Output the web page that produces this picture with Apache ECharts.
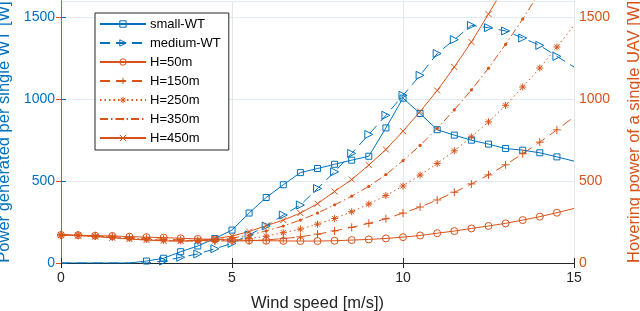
<!DOCTYPE html>
<html>
<head>
<meta charset="utf-8">
<script src="https://cdn.jsdelivr.net/npm/echarts@6/dist/echarts.min.js"></script>
<style>
html,body{margin:0;padding:0;background:#fff;}
#chart{width:640px;height:311px;}
</style>
</head>
<body>
<div id="chart"></div>
<script>
// ---- data ----
const windSpeed = [0,0.5,1,1.5,2,2.5,3,3.5,4,4.5,5,5.5,6,6.5,7,7.5,8,8.5,9,9.5,10,10.5,11,11.5,12,12.5,13,13.5,14,14.5,15];
const smallWT  = [0,0,0,0,0, 12,29,69,104,150, 201,305,400,478,552, 577,603,628,652,825, 1007,913,814,781,750, 726,699,689,673,648, 622];
const mediumWT = [0,0,0,0,0, 0,12,35,55,87, 120,172,226,293,354, 455,557,669,785,902, 1024,1146,1279,1364,1451, 1437,1417,1374,1329,1262, 1197];
const h50  = [171,170,167,165,161, 158,155,151,147,144, 141,138,136,135,134, 134,136,140,144,150, 158,168,182,195,211, 226,242,262,283,307, 333];
const h150 = [171,169,165,160,155, 150,145,141,137,135, 134,136,141,149,160, 176,196,218,242,270, 305,342,385,432,483, 538,600,667,738,813, 892];
const h250 = [171,169,164,158,151, 145,140,136,134,135, 140,149,164,185,207, 237,272,313,360,412, 470,537,608,685,770, 862,963,1075,1191,1319, 1451];
const h350 = [171,169,163,156,148, 142,137,134,135,141, 152,170,196,226,262, 305,355,408,468,540, 625,718,822,935,1057, 1190,1335,1490,1655,1830, 2010];
const h450 = [171,168,161,154,146, 140,135,134,138,148, 165,192,228,262,305, 362,437,510,598,693, 805,925,1053,1197,1350, 1520,1700,1890,2090,2300, 2520];
const xTicks = [0,5,10,15];
const yTicks = [0,500,1000,1500];
const seriesNames = ['small-WT','medium-WT','H=50m','H=150m','H=250m','H=350m','H=450m'];

const BLUE = '#0072BD', ORANGE = '#D95319', DARK = '#262626';
const FONT = 'Liberation Sans';
const CLEAR = 'rgba(255,255,255,0)';

function build(vals, hideZero) {
  return windSpeed.map((x, i) => {
    const item = { value: [x, vals[i]] };
    if ((hideZero && vals[i] === 0) || i === windSpeed.length - 1) item.symbol = 'none';
    return item;
  });
}

const SYM = {
  square: 'rect',
  triRight: 'path://M0,0L10,5L0,10Z',
  plus: 'path://M5,0L5,10M0,5L10,5',
  star: 'path://M5,0L5,10M0,5L10,5M1.5,1.5L8.5,8.5M8.5,1.5L1.5,8.5',
  cross: 'path://M0,0L10,10M10,0L0,10',
  dot: 'path://M0,0M10,10M5,3A2,2,0,1,1,5,7A2,2,0,1,1,5,3Z'
};

const hollow = c => ({ color: CLEAR, borderColor: c, borderWidth: 1 });

function mk(name, vals, color, yIdx, symbol, size, lineType, hideZero, filled) {
  return {
    name: name, type: 'line', yAxisIndex: yIdx,
    data: build(vals, hideZero),
    symbol: symbol, symbolSize: size, showAllSymbol: true,
    lineStyle: { color: color, width: 1, type: lineType },
    itemStyle: filled ? { color: color, borderWidth: 0 } : hollow(color),
    emphasis: { disabled: true },
    clip: true
  };
}

const legendColors = [BLUE, BLUE, ORANGE, ORANGE, ORANGE, ORANGE, ORANGE];
const legendData = seriesNames.map((n, i) => ({
  name: n,
  itemStyle: n === 'H=350m' ? { color: ORANGE, borderWidth: 0 } : hollow(legendColors[i])
}));

const chart = echarts.init(document.getElementById('chart'), null, { renderer: 'canvas' });
chart.setOption({
  animation: false,
  backgroundColor: '#fff',
  grid: { left: 61, right: 66, top: 1, bottom: 48, containLabel: false, outerBoundsMode: 'none' },
  legend: {
    orient: 'vertical', left: 95, top: 13,
    data: legendData,
    itemWidth: 46, itemHeight: 8, itemGap: 5,
    padding: [4, 8, 5, 4],
    backgroundColor: '#fff', borderColor: DARK, borderWidth: 1,
    textStyle: { fontFamily: FONT, fontSize: 13, color: '#000', lineHeight: 14, padding: [0,0,0,-1] }
  },
  xAxis: [{
    type: 'value', min: 0, max: 15, interval: 5,
    name: 'Wind speed [m/s])', nameLocation: 'middle', nameGap: 32,
    nameTextStyle: { fontFamily: FONT, fontSize: 16.5, color: DARK },
    axisLine: { show: true, lineStyle: { color: DARK, width: 1 } },
    axisTick: { show: true, inside: true, length: 5, lineStyle: { color: DARK } },
    axisLabel: { fontFamily: FONT, fontSize: 14, color: DARK, margin: 8,
      formatter: v => xTicks.includes(v) ? String(v) : '' },
    splitLine: { show: true, lineStyle: { color: '#e6e6e6', width: 1 } }
  }, {
    type: 'value', min: 0, max: 15, interval: 5, position: 'top',
    axisLine: { show: true, lineStyle: { color: DARK, width: 1 } },
    axisTick: { show: true, inside: true, length: 5, lineStyle: { color: DARK } },
    axisLabel: { show: false }, splitLine: { show: false }
  }],
  yAxis: [{
    type: 'value', min: 0, max: 1600, interval: 500, position: 'left',
    name: 'Power generated per single WT [W]', nameLocation: 'middle', nameGap: 46, nameRotate: 90,
    nameTextStyle: { fontFamily: FONT, fontSize: 16.5, color: BLUE },
    axisLine: { show: true, lineStyle: { color: BLUE, width: 1 } },
    axisTick: { show: true, inside: true, length: 5, lineStyle: { color: BLUE } },
    axisLabel: { fontFamily: FONT, fontSize: 14, color: BLUE, margin: 6, showMaxLabel: false,
      formatter: v => yTicks.includes(v) ? String(v) : '' },
    splitLine: { show: true, lineStyle: { color: '#e2eaf3', width: 1 } }
  }, {
    type: 'value', min: 0, max: 1600, interval: 500, position: 'right',
    name: 'Hovering power of a single UAV [W]', nameLocation: 'middle', nameGap: 52, nameRotate: 90,
    nameTextStyle: { fontFamily: FONT, fontSize: 16.5, color: ORANGE },
    axisLine: { show: true, lineStyle: { color: ORANGE, width: 1 } },
    axisTick: { show: true, inside: true, length: 5, lineStyle: { color: ORANGE } },
    axisLabel: { fontFamily: FONT, fontSize: 14, color: ORANGE, margin: 5, showMaxLabel: false,
      formatter: v => yTicks.includes(v) ? String(v) : '' },
    splitLine: { show: false }
  }],
  series: [
    mk('small-WT', smallWT, BLUE, 0, SYM.square, 6, 'solid', true, false),
    mk('medium-WT', mediumWT, BLUE, 0, SYM.triRight, 8, [10, 6], true, false),
    mk('H=50m', h50, ORANGE, 1, 'circle', 7, 'solid', false, false),
    mk('H=150m', h150, ORANGE, 1, SYM.plus, 8, [10, 6], false, false),
    mk('H=250m', h250, ORANGE, 1, SYM.star, 7, [1.5, 3], false, false),
    mk('H=350m', h350, ORANGE, 1, SYM.dot, 8, [8, 3, 1.5, 3], false, true),
    mk('H=450m', h450, ORANGE, 1, SYM.cross, 6, 'solid', false, false)
  ]
});
</script>
</body>
</html>
